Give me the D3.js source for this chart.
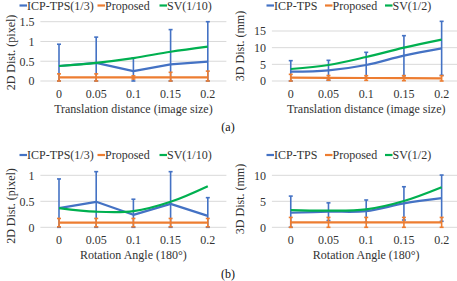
<!DOCTYPE html>
<html><head><meta charset="utf-8">
<script src="https://cdn.jsdelivr.net/npm/d3@7"></script>
<style>
body{margin:0;background:#fff;}
svg{display:block;font-family:"Liberation Serif","Times New Roman",serif;}
svg text{font-family:"Liberation Serif","Times New Roman",serif !important;}
</style></head>
<body><svg id="c" width="457" height="281"></svg>
<script>
const categories = ["0", "0.05", "0.1", "0.15", "0.2"];
const seriesNames2D = ["ICP-TPS(1/3)", "Proposed", "SV(1/10)"];
const seriesNames3D = ["ICP-TPS", "Proposed", "SV(1/2)"];

// (a) translation, 2D
const icpTrans2D = [0.38, 0.46, 0.25, 0.42, 0.49];
const icpTrans2DErr = [0.55, 0.65, 0.33, 0.88, 1.01];
const propTrans2D = [0.09, 0.09, 0.09, 0.09, 0.09];
const propTrans2DErr = [0.09, 0.09, 0.04, 0.13, 0.16];
const svTrans2D = [0.38, 0.46, 0.58, 0.74, 0.87];
// (a) translation, 3D
const icpTrans3D = [2.8, 3.2, 4.8, 7.6, 9.8];
const icpTrans3DErr = [3.3, 3.0, 3.8, 6.0, 8.1];
const propTrans3D = [1.0, 0.95, 0.9, 0.85, 0.8];
const propTrans3DErr = [1.0, 0.7, 0.7, 0.75, 0.8];
const svTrans3D = [3.6, 4.8, 7.2, 10.0, 12.4];
// (b) rotation, 2D
const icpRot2D = [0.37, 0.49, 0.24, 0.45, 0.22];
const icpRot2DErr = [0.56, 0.58, 0.30, 0.62, 0.35];
const propRot2D = [0.09, 0.09, 0.09, 0.09, 0.09];
const propRot2DErr = [0.08, 0.08, 0.08, 0.08, 0.08];
const svRot2D = [0.37, 0.30, 0.31, 0.49, 0.79];
// (b) rotation, 3D
const icpRot3D = [2.8, 3.0, 3.1, 4.6, 5.6];
const icpRot3DErr = [3.2, 1.7, 2.15, 3.2, 4.45];
const propRot3D = [0.95, 0.95, 0.95, 0.95, 0.95];
const propRot3DErr = [0.95, 0.95, 0.95, 0.95, 0.95];
const svRot3D = [3.3, 3.2, 3.45, 5.05, 7.7];

const yTicks2DTrans = [0, 0.5, 1, 1.5];
const yTicks3DTrans = [0, 5, 10, 15];
const yTicks2DRot = [0, 0.5, 1];
const yTicks3DRot = [0, 5, 10];

const colors = ["#4472C4", "#ED7D31", "#00B050"];
const svg = d3.select("#c");

function panel(o) {
  const g = svg.append("g");
  const x = d3.scaleBand().domain(categories).range(o.xr);
  const y = d3.scaleLinear().domain([0, o.yTicks[o.yTicks.length - 1]]).range(o.yr);
  const cx = c => x(c) + x.bandwidth() / 2;

  g.selectAll(".grid").data(o.yTicks).join("line")
    .attr("x1", o.xr[0]).attr("x2", o.xr[1])
    .attr("y1", d => y(d)).attr("y2", d => y(d))
    .attr("stroke", "#D9D9D9").attr("stroke-width", 1);

  const ya = g.append("g").attr("transform", `translate(${o.xr[0] - 6},0)`)
    .call(d3.axisLeft(y).tickValues(o.yTicks).tickFormat(d3.format("~g")).tickSize(0).tickPadding(0));
  ya.select(".domain").remove();
  ya.attr("font-family", null);
  ya.selectAll("text").attr("font-size", 12).attr("fill", "#333");

  const xa = g.append("g").attr("transform", `translate(0,${o.yr[0] + 8})`)
    .call(d3.axisBottom(x).tickSize(0).tickPadding(0));
  xa.select(".domain").remove();
  xa.attr("font-family", null);
  xa.selectAll("text").attr("font-size", 12).attr("fill", "#333");

  g.append("text").attr("x", (o.xr[0] + o.xr[1]) / 2).attr("y", o.xTitleY)
    .attr("text-anchor", "middle").attr("font-size", 12).attr("fill", "#333").text(o.xTitle);
  g.append("text").attr("transform", `translate(${o.yTitleX},${o.yTitleCY}) rotate(-90)`)
    .attr("text-anchor", "middle").attr("font-size", 12).attr("fill", "#333").text(o.yTitle);

  const y0 = y(0);
  function errBars(vals, errs, color, sw, cap) {
    const eg = g.append("g");
    vals.forEach((v, i) => {
      const top = y(v + errs[i]);
      const bot = Math.min(y(Math.max(v - errs[i], 0)), y0);
      const xc = cx(categories[i]);
      eg.append("line").attr("x1", xc).attr("x2", xc).attr("y1", top).attr("y2", bot)
        .attr("stroke", color).attr("stroke-width", sw);
      eg.append("line").attr("x1", xc - cap).attr("x2", xc + cap).attr("y1", top).attr("y2", top)
        .attr("stroke", color).attr("stroke-width", sw);
      eg.append("line").attr("x1", xc - cap).attr("x2", xc + cap).attr("y1", bot).attr("y2", bot)
        .attr("stroke", color).attr("stroke-width", sw);
    });
  }
  function line(vals, color, curve) {
    const ln = d3.line().x((d, i) => cx(categories[i])).y(d => y(d)).curve(curve);
    g.append("path").attr("d", ln(vals)).attr("fill", "none")
      .attr("stroke", color).attr("stroke-width", 2.2).attr("stroke-linejoin", "round");
  }
  errBars(o.icp, o.icpErr, colors[0], 1.6, 2);
  line(o.icp, colors[0], o.icpCurve);
  errBars(o.prop, o.propErr, colors[1], 1.6, 2);
  line(o.prop, colors[1], d3.curveLinear);
  line(o.sv, colors[2], d3.curveCatmullRom);

  const lg = g.append("g");
  o.names.forEach((n, i) => {
    lg.append("line").attr("x1", o.legX[i]).attr("x2", o.legX[i] + 7.5)
      .attr("y1", o.legY).attr("y2", o.legY).attr("stroke", colors[i]).attr("stroke-width", 2.2);
    lg.append("text").attr("x", o.legX[i] + 7.5).attr("y", o.legY + 4)
      .attr("font-size", 12).attr("fill", "#333").text(n);
  });
}

panel({xr: [40.4, 226.4], yr: [81, 21.7], yTicks: yTicks2DTrans,
  icp: icpTrans2D, icpErr: icpTrans2DErr, prop: propTrans2D, propErr: propTrans2DErr, sv: svTrans2D,
  icpCurve: d3.curveLinear, names: seriesNames2D, legX: [19.5, 97.5, 159.5], legY: 5.5,
  xTitle: "Translation distance (image size)", xTitleY: 112.5, yTitle: "2D Dist. (pixel)", yTitleX: 14.5, yTitleCY: 52.5});
panel({xr: [271.9, 460.5], yr: [81, 31], yTicks: yTicks3DTrans,
  icp: icpTrans3D, icpErr: icpTrans3DErr, prop: propTrans3D, propErr: propTrans3DErr, sv: svTrans3D,
  icpCurve: d3.curveCatmullRom, names: seriesNames3D, legX: [266.5, 325, 385], legY: 5.5,
  xTitle: "Translation distance (image size)", xTitleY: 112.5, yTitle: "3D Dist. (mm)", yTitleX: 244, yTitleCY: 46});
panel({xr: [40.4, 226.4], yr: [227.3, 175.3], yTicks: yTicks2DRot,
  icp: icpRot2D, icpErr: icpRot2DErr, prop: propRot2D, propErr: propRot2DErr, sv: svRot2D,
  icpCurve: d3.curveLinear, names: seriesNames2D, legX: [19.5, 97.5, 159.5], legY: 155,
  xTitle: "Rotation Angle (180°)", xTitleY: 259, yTitle: "2D Dist. (pixel)", yTitleX: 14.5, yTitleCY: 206});
panel({xr: [271.9, 460.5], yr: [227.3, 175.3], yTicks: yTicks3DRot,
  icp: icpRot3D, icpErr: icpRot3DErr, prop: propRot3D, propErr: propRot3DErr, sv: svRot3D,
  icpCurve: d3.curveCatmullRom, names: seriesNames3D, legX: [266.5, 325, 385], legY: 155,
  xTitle: "Rotation Angle (180°)", xTitleY: 259, yTitle: "3D Dist. (mm)", yTitleX: 244, yTitleCY: 199});

svg.append("text").attr("x", 228).attr("y", 131).attr("text-anchor", "middle")
  .attr("font-size", 12).attr("fill", "#111").text("(a)");
svg.append("text").attr("x", 228).attr("y", 278).attr("text-anchor", "middle")
  .attr("font-size", 12).attr("fill", "#111").text("(b)");
</script></body></html>
